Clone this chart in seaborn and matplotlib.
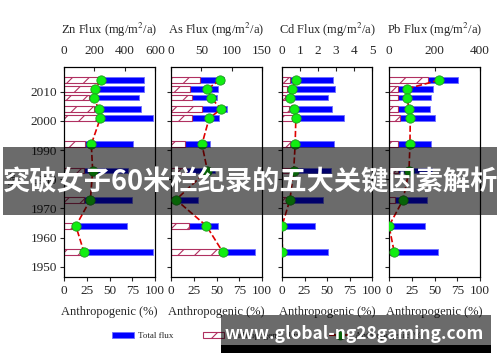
import matplotlib
matplotlib.use('Agg')
import matplotlib.pyplot as plt
import seaborn as sns
import pandas as pd
from matplotlib.patches import Patch, Rectangle
from matplotlib.lines import Line2D

# values
years = [2014, 2011, 2008, 2004, 2001, 1992, 1983, 1973, 1964, 1955]

zn_total = [530, 530, 495, 510, 585, 457, 424, 450, 413, 585]
zn_anthro = [222, 189, 167, 200, 220, 140, 134, 134, 55, 110]
zn_pct = [41, 34, 33, 38, 40, 30, 31.5, 29, 13, 22]

as_total = [88, 77, 76, 92, 79, 64, 72, 45, 77, 138]
as_anthro = [48, 31, 35, 51, 35, 23, 25, 3, 30, 79]
as_pct = [54, 40, 44, 55, 42, 34, 40, 5.5, 39, 57]

cd_total = [2.84, 2.95, 2.53, 2.8, 3.42, 2.91, 2.73, 2.3, 1.81, 2.55]
cd_anthro = [0.44, 0.26, 0.16, 0.38, 0.53, 0.44, 0.5, 0.2, 0.0, 0.03]
cd_pct = [15.4, 10.6, 8.4, 13, 15.4, 14.6, 13, 8.8, 0, 0.5]

pb_total = [305, 192, 183, 180, 204, 183, 188, 166, 158, 217]
pb_anthro = [170, 38, 38, 40, 48, 41, 41, 26, 0, 8]
pb_pct = [55, 19.4, 19.8, 22, 23.4, 23, 22, 15.5, 0, 5.8]

elements = ['Zn', 'As', 'Cd', 'Pb']
totals = [zn_total, as_total, cd_total, pb_total]
anthros = [zn_anthro, as_anthro, cd_anthro, pb_anthro]
pcts = [zn_pct, as_pct, cd_pct, pb_pct]
flux_max = [600, 150, 5, 400]
flux_ticks = [[0, 200, 400, 600], [0, 50, 100, 150], [0, 1, 2, 3, 4, 5], [0, 200, 400]]
pct_ticks = [0, 25, 50, 75, 100]
year_ticks = [1950, 1960, 1970, 1980, 1990, 2000, 2010]

BLUE = '#0000ff'
HATCH = '#b03060'
RED = '#e00000'
GREEN = '#11ee11'

sns.set_theme(style='ticks')
plt.rcParams['font.family'] = ['Liberation Serif', 'DejaVu Serif']
plt.rcParams['mathtext.fontset'] = 'stix'
plt.rcParams['axes.linewidth'] = 0.8
plt.rcParams['hatch.linewidth'] = 0.8

W, H = 500, 362
fig = plt.figure(figsize=(W / 100, H / 100), dpi=100)
fig.patch.set_facecolor('white')

lefts = [64, 171, 282, 389]
widths = [91, 91, 90, 91]
top_px, bot_px = 67, 277

for i, el in enumerate(elements):
    ax = fig.add_axes([lefts[i] / W, 1 - bot_px / H, widths[i] / W, (bot_px - top_px) / H])
    ax.set_facecolor('white')
    df = pd.DataFrame({'year': years, 'total': totals[i],
                       'anthro': anthros[i], 'pct': pcts[i]})

    sns.barplot(data=df, x='total', y='year', orient='y', native_scale=True,
                width=0.65, color=BLUE, saturation=1, edgecolor='#6f6fff',
                linewidth=0.6, errorbar=None, ax=ax)
    sns.barplot(data=df, x='anthro', y='year', orient='y', native_scale=True,
                width=0.65, color='white', saturation=1, edgecolor=HATCH,
                hatch='//', linewidth=0.8, errorbar=None, ax=ax)

    ax2 = ax.twiny()
    sns.lineplot(data=df, x='pct', y='year', sort=False, estimator=None,
                 color=RED, linestyle='--', linewidth=1.2, ax=ax2)
    sns.scatterplot(data=df, x='pct', y='year', color=GREEN, edgecolor='#229922',
                    s=45, linewidth=0.6, zorder=3, ax=ax2)

    ax.xaxis.tick_top()
    ax.xaxis.set_label_position('top')
    ax.set_xlim(0, flux_max[i])
    ax.set_xticks(flux_ticks[i])
    ax.set_xlabel(f'{el} Flux (mg/m$^2$/a)', fontsize=9, labelpad=8)
    ax.set_ylim(1946.5, 2018.5)
    ax.set_yticks(year_ticks)
    ax.set_ylabel('')
    ax.tick_params(axis='x', direction='in', length=3, labelsize=9.5, pad=7, width=0.8)
    ax.tick_params(axis='y', direction='out', length=3, labelsize=9.5, pad=2, width=0.8)
    if i > 0:
        ax.set_yticklabels([])

    ax2.xaxis.tick_bottom()
    ax2.xaxis.set_label_position('bottom')
    ax2.set_xlim(0, 100)
    ax2.set_xticks(pct_ticks)
    ax2.set_xlabel('Anthropogenic (%)', fontsize=9, labelpad=6)
    ax2.set_ylim(1946.5, 2018.5)
    ax2.tick_params(axis='x', direction='out', length=3, labelsize=9.5, pad=3, width=0.8)

    for a in (ax, ax2):
        for s in a.spines.values():
            s.set_color('black')
            s.set_linewidth(0.8)

fig.text(13 / W, 1 - 180 / H, 'Year', rotation=90, fontsize=7, ha='center', va='center')

handles = [
    Patch(facecolor=BLUE, edgecolor='#6f6fff', linewidth=0.6),
    Patch(facecolor='white', edgecolor=HATCH, hatch='//', linewidth=0.8),
    Line2D([0], [0], color=RED, linestyle='--', marker='o', markersize=6,
           markerfacecolor=GREEN, markeredgecolor='#229922'),
]
fig.legend(handles, ['Total flux', 'Anthropogenic flux', 'Anthropogenic (%)'],
           loc='center left', bbox_to_anchor=(104 / W, 1 - 336 / H), ncol=3,
           fontsize=6.5, frameon=False, handlelength=2.4, handleheight=0.7,
           handletextpad=0.5, columnspacing=3.2)

# overlay banner and watermark
fig.add_artist(Rectangle((3 / W, 1 - 215 / H), 494 / W, 68 / H, transform=fig.transFigure,
                         facecolor='black', alpha=0.58, edgecolor='none', zorder=10))
fig.text(0.5, 1 - 182 / H, '突破女子60米栏纪录的五大关键因素解析', color='white',
         fontsize=19.6, fontweight='bold', family=['Noto Sans CJK SC', 'DejaVu Sans'],
         ha='center', va='center', zorder=11)

fig.add_artist(Rectangle((221 / W, 1 - 345 / H), 270 / W, 30 / H, transform=fig.transFigure,
                         facecolor='black', alpha=0.58, edgecolor='none', zorder=10))
fig.add_artist(Rectangle((221 / W, 1 - 353 / H), 270 / W, 8 / H, transform=fig.transFigure,
                         facecolor='black', edgecolor='none', zorder=10))
fig.text(354 / W, 1 - 334 / H, 'www.global-ng28gaming.com', color='white',
         fontsize=12.5, fontweight='bold', family=['Noto Sans CJK SC', 'DejaVu Sans'],
         ha='center', va='center', zorder=11)

fig.savefig('out.png', dpi=100, facecolor='white')
